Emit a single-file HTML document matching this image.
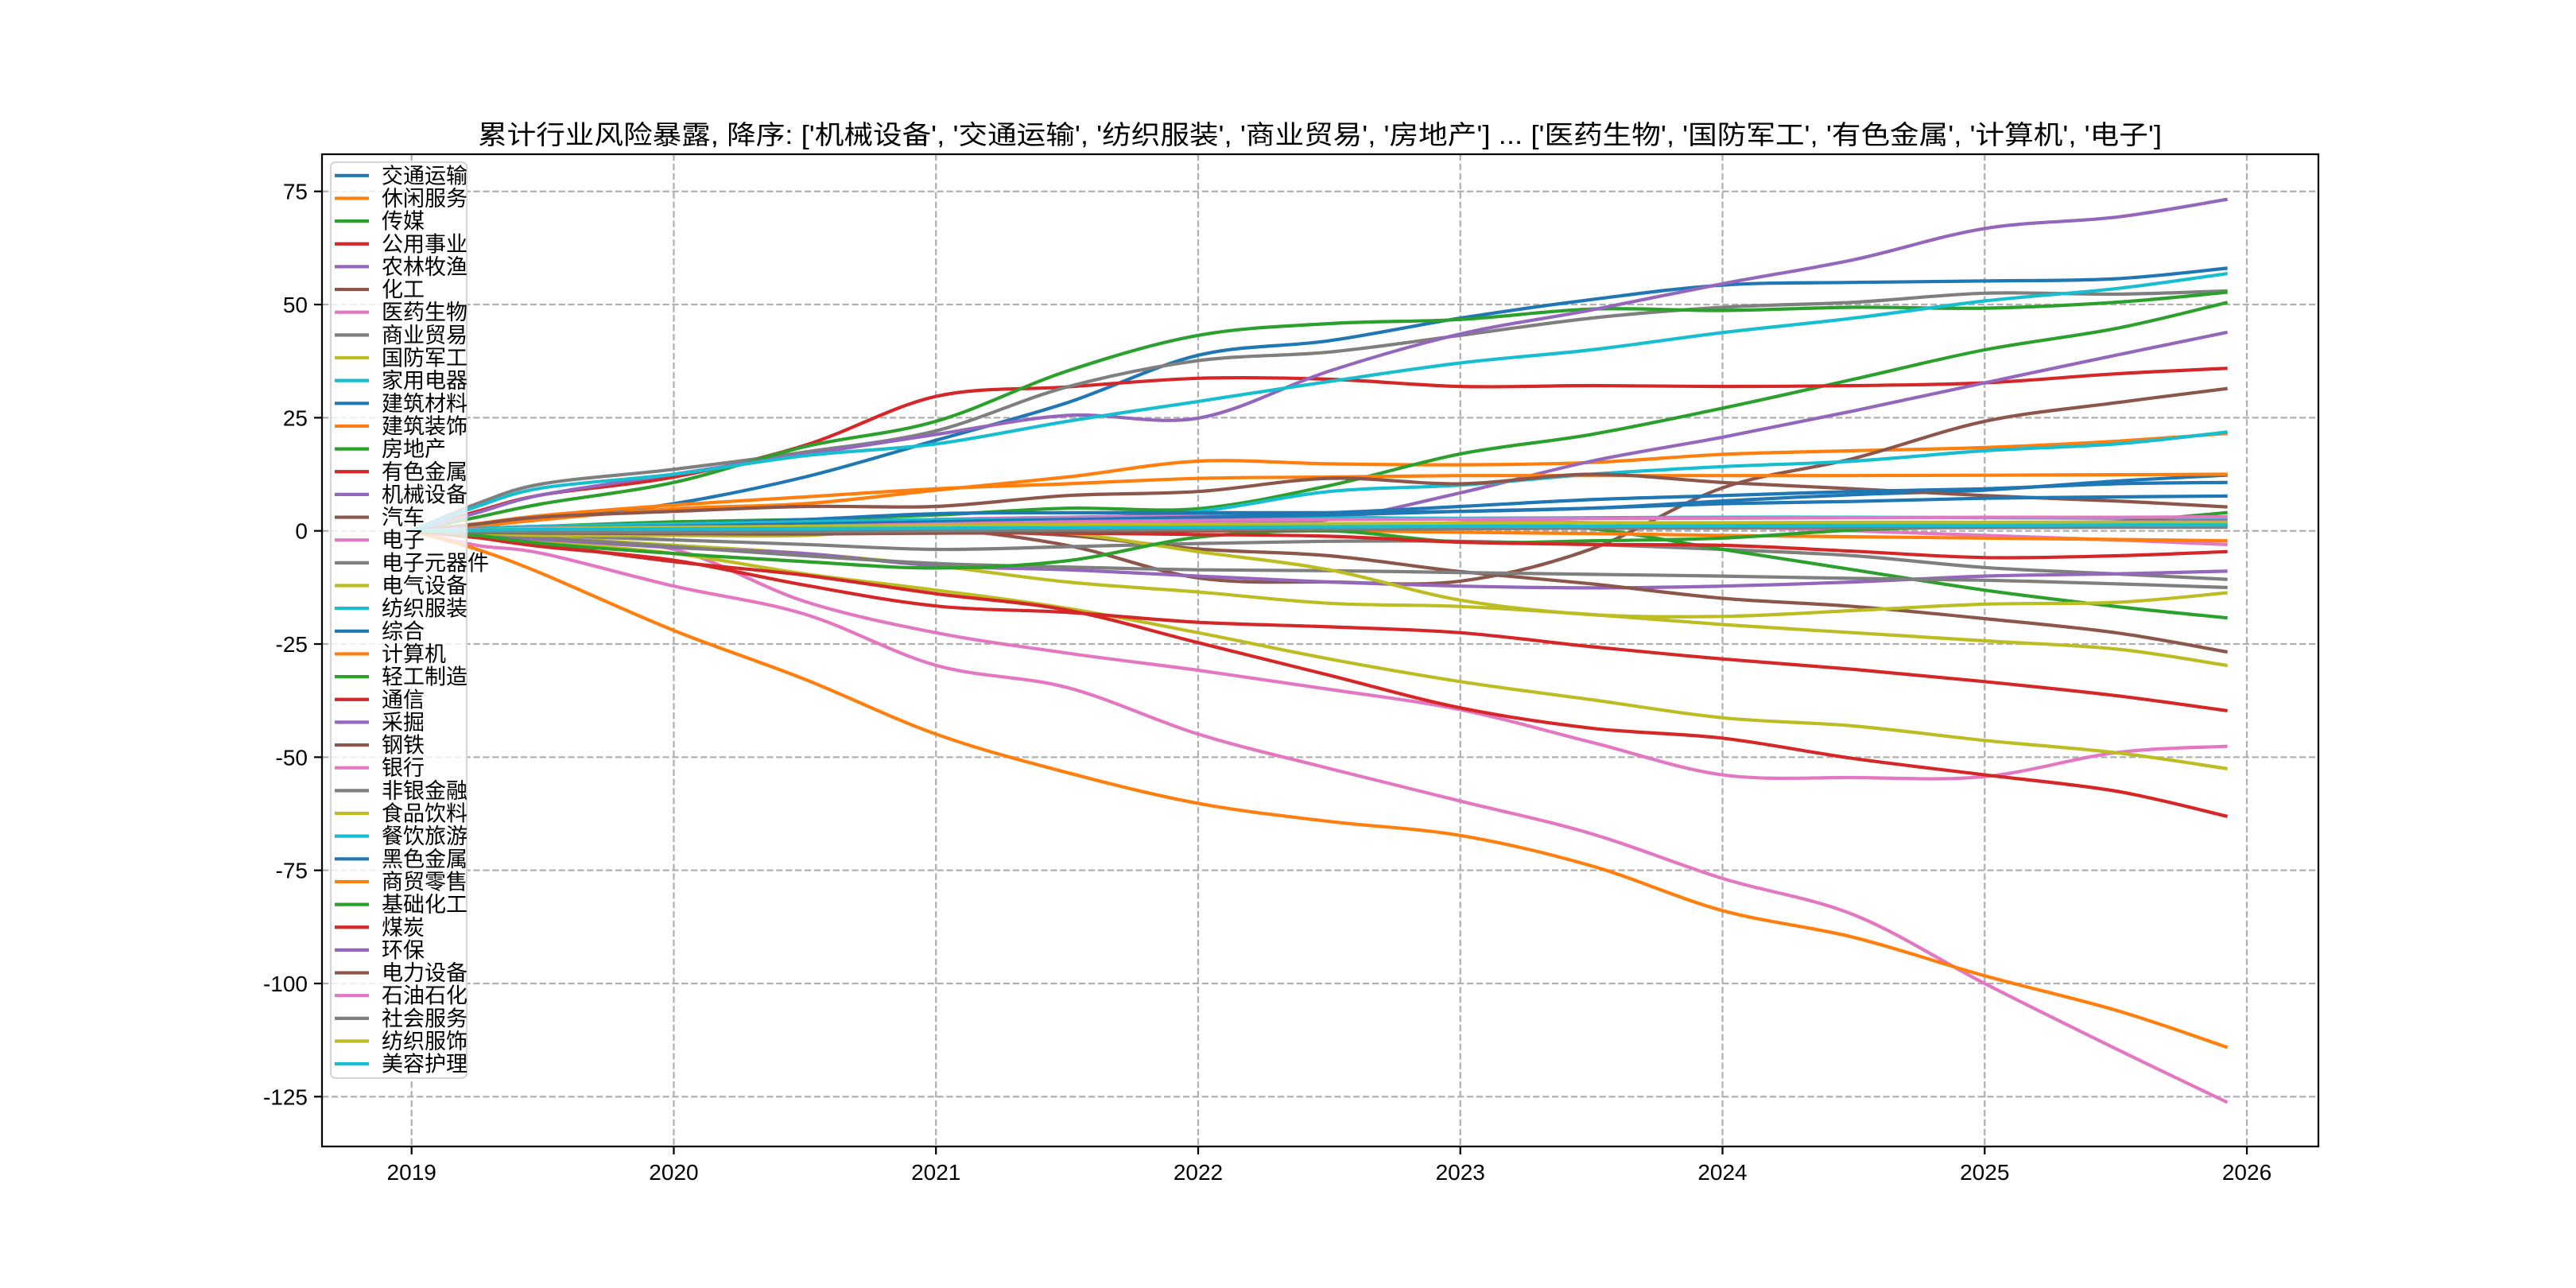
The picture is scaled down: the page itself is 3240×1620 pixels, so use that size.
<!DOCTYPE html>
<html>
<head>
<meta charset="utf-8">
<style>
html,body{margin:0;padding:0;background:#fff;}
svg{display:block;}
text{font-family:"Liberation Sans","Noto Sans CJK SC","WenQuanYi Zen Hei",sans-serif;fill:#000;}
</style>
</head>
<body>
<svg id="chart" xmlns="http://www.w3.org/2000/svg" width="3240" height="1620" viewBox="0 0 3240 1620">
  <rect x="0" y="0" width="3240" height="1620" fill="#fff"/>
  <text x="1660" y="181" font-size="33" text-anchor="middle" textLength="2118" lengthAdjust="spacingAndGlyphs">累计行业风险暴露, 降序: ['机械设备', '交通运输', '纺织服装', '商业贸易', '房地产'] ... ['医药生物', '国防军工', '有色金属', '计算机', '电子']</text>
  <g id="grid"></g>
  <g id="lines"></g>
  <g id="axes"></g>
  <g id="legend"></g>
</svg>
<script>
const dates = [2019, 2019.25, 2019.5, 2020, 2020.5, 2021, 2021.5, 2022, 2022.5, 2023, 2023.5, 2024, 2024.5, 2025, 2025.5, 2025.92];
const seriesNames = ['交通运输','休闲服务','传媒','公用事业','农林牧渔','化工','医药生物','商业贸易','国防军工','家用电器','建筑材料','建筑装饰','房地产','有色金属','机械设备','汽车','电子','电子元器件','电气设备','纺织服装','综合','计算机','轻工制造','通信','采掘','钢铁','银行','非银金融','食品饮料','餐饮旅游','黑色金属','商贸零售','基础化工','煤炭','环保','电力设备','石油石化','社会服务','纺织服饰','美容护理'];
const palette = ['#1f77b4','#ff7f0e','#2ca02c','#d62728','#9467bd','#8c564b','#e377c2','#7f7f7f','#bcbd22','#17becf'];
const xTicks = [2019, 2020, 2021, 2022, 2023, 2024, 2025, 2026];
const yTicks = [-125, -100, -75, -50, -25, 0, 25, 50, 75];
const values = [
 [0,1.5,2.5,6,11.9,20,28.3,38.8,42,47,51.1,54.3,54.9,55.2,55.7,58],
 [0,1,2.5,4.9,6,9,11.9,15.4,14.8,14.6,15.1,16.9,17.7,18.4,19.8,21.5],
 [0,0.5,1,2,2.5,3.5,5,4.9,10,17,21.3,27.1,33.5,40,44.7,50.4],
 [0,4.3,8,11.9,18.9,29.7,31.8,33.7,33.5,31.9,32.1,31.9,32.1,32.7,34.7,35.9],
 [0,0.5,0.8,1,1.2,1.3,1.5,1.8,2.5,8.4,15.4,20.7,26.5,32.7,38.8,43.8],
 [0,0.3,0.5,0.8,1,0.5,-3.2,-10.4,-11.3,-11.1,-4,9.5,16,24.2,28.3,31.4],
 [0,-1,-1.9,-4.1,-15.6,-22.5,-27,-30.8,-35,-39.5,-46.7,-53.9,-54.5,-54.3,-49,-47.6],
 [0,6,10.4,13.6,17.4,22.1,31.8,37.6,39.5,43.2,47,49.4,50.5,52.5,52.3,53],
 [0,-1.5,-2.5,-5,-9.5,-13.1,-17.1,-22.5,-28.3,-33.3,-37.3,-41.3,-43.1,-46.3,-49,-52.5],
 [0,0.3,0.6,1,1.3,1.9,2.8,4.3,8.7,10.1,12.5,14.2,15.4,17.7,19.2,21.8],
 [0,0.5,1,1.5,2.5,3.8,4,4,4,4.3,5,6.6,8,9,11,12.3],
 [0,1.6,3.4,5.7,7.5,9.3,10.4,11.6,11.9,12.2,12.2,12.2,12.2,12.3,12.4,12.5],
 [0,3,6,10.7,18.6,24.2,35.3,43.2,45.8,46.7,49,48.7,49.4,49.2,50.5,52.7],
 [0,-1.5,-3,-6.8,-9.8,-13.9,-17.5,-24.7,-31.9,-39.1,-43.6,-45.8,-50.3,-53.9,-57.5,-63],
 [0,4,8,12.5,16.9,21.3,25.5,24.9,35.3,43.5,48.8,54.6,59.9,66.8,69.3,73.2],
 [0,1.5,3.1,4.3,5.4,5.4,7.8,8.7,11.6,10.4,12.5,10.7,9.3,7.8,6.6,5.3],
 [0,-3.2,-5,-12.2,-18.4,-29.7,-34.6,-44.9,-52.5,-59.7,-66.9,-76.8,-84.8,-100,-114.4,-126.1],
 [0,-0.5,-1,-2,-3,-4.1,-3.5,-2.8,-2.3,-2.3,-3,-4.1,-5.5,-8.1,-9.5,-10.7],
 [0,-0.7,-1.4,-3.2,-5,-7.7,-11.3,-13.5,-16,-16.7,-18.5,-20.7,-22.5,-24.3,-26.1,-29.7],
 [0,5.4,9.5,12.5,16.6,19.2,24.2,28.6,33,37.1,40,43.8,47,50.8,53.5,56.8],
 [0,0.3,0.6,1,1.5,2.5,3,3.5,4,5.4,6.9,7.8,8.7,9.3,10.4,10.7],
 [0,-4.1,-9.5,-22,-32.8,-44.9,-53.4,-60.2,-64.2,-67.3,-74,-83.9,-89.8,-98.3,-105.9,-114],
 [0,0.5,1,1.5,2,2.5,2.5,2.5,2.8,2.5,0.5,-4.1,-8.6,-13.1,-16.7,-19.2],
 [0,-1.5,-3.5,-6.5,-12,-16.6,-18,-20.2,-21.2,-22.5,-25.6,-28.3,-30.6,-33.3,-36.4,-39.7],
 [0,-0.8,-1.9,-3.7,-5,-7.7,-8.6,-10,-11.3,-12.2,-12.6,-12.2,-11.3,-10,-9.5,-8.9],
 [0,0.3,0.5,0.5,0.3,0,-1,-4,-5.5,-9,-11.7,-14.9,-16.7,-19.4,-22.5,-26.7],
 [0,0.5,1,1.5,2,2.5,3,3.2,3.1,2.5,1.8,1,0,-1,-2,-3],
 [0,-0.5,-1.5,-3.5,-5.5,-7.2,-8,-8.6,-8.8,-9.2,-9.6,-10,-10.5,-10.9,-11.7,-12.5],
 [0,-0.5,-1,-1,-1,0.8,-0.5,-4.6,-8.6,-15.3,-18.5,-18.9,-17.6,-16.2,-15.8,-13.7],
 [0,0.5,1,1.5,2,2.5,2.6,2.7,2.8,2.8,2.9,3,3,2.9,2.8,2.8],
 [0,0.3,0.6,1,1.5,2,2.5,3,3.5,4.3,5,6,6.5,7.2,7.5,7.7],
 [0,-0.2,-0.3,-0.3,-0.2,0,0,0,0,-0.3,-0.6,-1,-1.3,-1.6,-1.9,-2.2],
 [0,-1,-2.8,-5,-6.8,-8.2,-6.6,-1.4,0,-2.5,-2.2,-1.6,0.2,1,2,4],
 [0,0,-0.3,-0.5,-0.5,-0.5,-0.5,-0.8,-1.2,-2.5,-3,-3.2,-4.5,-5.9,-5.5,-4.6],
 [0,0.3,0.5,0.8,1,1.2,1.5,1.8,1.5,1.2,1,1.2,1.5,1.8,2,2.2],
 [0,-0.3,-0.5,-0.6,-0.7,-0.5,-0.3,0,0.3,0.5,0.6,0.7,0.8,0.9,1,1.2],
 [0,0.3,0.6,0.8,1,1.5,2,2.3,2.5,2.6,2.7,2.8,2.9,3,3,3.1],
 [0,-0.2,-0.3,-0.3,-0.2,0,0.2,0.3,0.4,0.5,0.6,0.6,0.7,0.7,0.8,0.8],
 [0,0.2,0.5,0.8,1,1.2,1.4,1.5,1.6,1.7,1.8,1.8,1.9,1.9,1.9,1.9],
 [0,0.2,0.3,0.4,0.5,0.6,0.7,0.8,0.9,1,1,1.1,1.2,1.2,1.3,1.3]
];

const NS = 'http://www.w3.org/2000/svg';
const AX = {left:405, right:2916, top:194, bottom:1442};
function xScale(t){ return 517.7 + (t - 2019) * 329.76; }
function yScale(v){ return 667.7 - v * 5.693; }
function mk(tag, attrs){ const e = document.createElementNS(NS, tag); for (const k in attrs) e.setAttribute(k, attrs[k]); return e; }
function smoothPath(pts){
  let d = 'M' + pts[0][0].toFixed(1) + ',' + pts[0][1].toFixed(1);
  for (let i = 0; i < pts.length - 1; i++) {
    const p0 = pts[Math.max(0, i - 1)], p1 = pts[i], p2 = pts[i + 1], p3 = pts[Math.min(pts.length - 1, i + 2)];
    const c1x = p1[0] + (p2[0] - p0[0]) / 6, c1y = p1[1] + (p2[1] - p0[1]) / 6;
    const c2x = p2[0] - (p3[0] - p1[0]) / 6, c2y = p2[1] - (p3[1] - p1[1]) / 6;
    d += ' C' + c1x.toFixed(1) + ',' + c1y.toFixed(1) + ' ' + c2x.toFixed(1) + ',' + c2y.toFixed(1) + ' ' + p2[0].toFixed(1) + ',' + p2[1].toFixed(1);
  }
  return d;
}

const grid = document.getElementById('grid');
const axes = document.getElementById('axes');
const linesG = document.getElementById('lines');
const legend = document.getElementById('legend');

xTicks.forEach(t => {
  const x = xScale(t);
  const l = mk('line', {x1:x, x2:x, y1:AX.top, y2:AX.bottom, stroke:'#b0b0b0', 'stroke-width':2.25, 'stroke-dasharray':'8.3,3.6'});
  
  
  grid.appendChild(l);
});
yTicks.forEach(v => {
  const y = yScale(v);
  const l = mk('line', {x1:AX.left, x2:AX.right, y1:y, y2:y, stroke:'#b0b0b0', 'stroke-width':2.25, 'stroke-dasharray':'8.3,3.6'});
  
  
  grid.appendChild(l);
});

values.forEach((vals, i) => {
  const pts = vals.map((v, j) => [xScale(dates[j]), yScale(v)]);
  const p = mk('path', {d:smoothPath(pts), fill:'none', stroke:palette[i % 10], 'stroke-width':4.2, 'stroke-linejoin':'round', 'stroke-linecap':'square'});
  
  
  linesG.appendChild(p);
});

const frame = mk('rect', {x:AX.left, y:AX.top, width:AX.right-AX.left, height:AX.bottom-AX.top, fill:'none', stroke:'#000', 'stroke-width':2.25});


axes.appendChild(frame);

xTicks.forEach(t => {
  const x = xScale(t);
  const tk = mk('line', {x1:x, x2:x, y1:AX.bottom, y2:AX.bottom+10, stroke:'#000', 'stroke-width':2.25});
  
  
  axes.appendChild(tk);
  const tx = mk('text', {x:x, y:AX.bottom+42, 'font-size':28, 'text-anchor':'middle'});
  tx.textContent = String(t);
  
  
  axes.appendChild(tx);
});
yTicks.forEach(v => {
  const y = yScale(v);
  const tk = mk('line', {x1:AX.left-10, x2:AX.left, y1:y, y2:y, stroke:'#000', 'stroke-width':2.25});
  
  
  axes.appendChild(tk);
  const tx = mk('text', {x:AX.left-18, y:y+10, 'font-size':28, 'text-anchor':'end'});
  tx.textContent = String(v);
  
  
  axes.appendChild(tx);
});

const lgBox = mk('rect', {x:416, y:204, width:171, height:1152, rx:6, ry:6, fill:'#fff', 'fill-opacity':0.8, stroke:'#d6d6d6', 'stroke-width':2.25});


legend.appendChild(lgBox);
seriesNames.forEach((n, i) => {
  const y = 220.8 + i * 28.65;
  const g = mk('g', {});
  
  
  const l = mk('line', {x1:421, x2:464, y1:y, y2:y, stroke:palette[i % 10], 'stroke-width':4.2});
  
  
  g.appendChild(l);
  const tx = mk('text', {x:480, y:y+9.5, 'font-size':27});
  tx.textContent = n;
  
  
  g.appendChild(tx);
  legend.appendChild(g);
});
</script>
</body>
</html>
